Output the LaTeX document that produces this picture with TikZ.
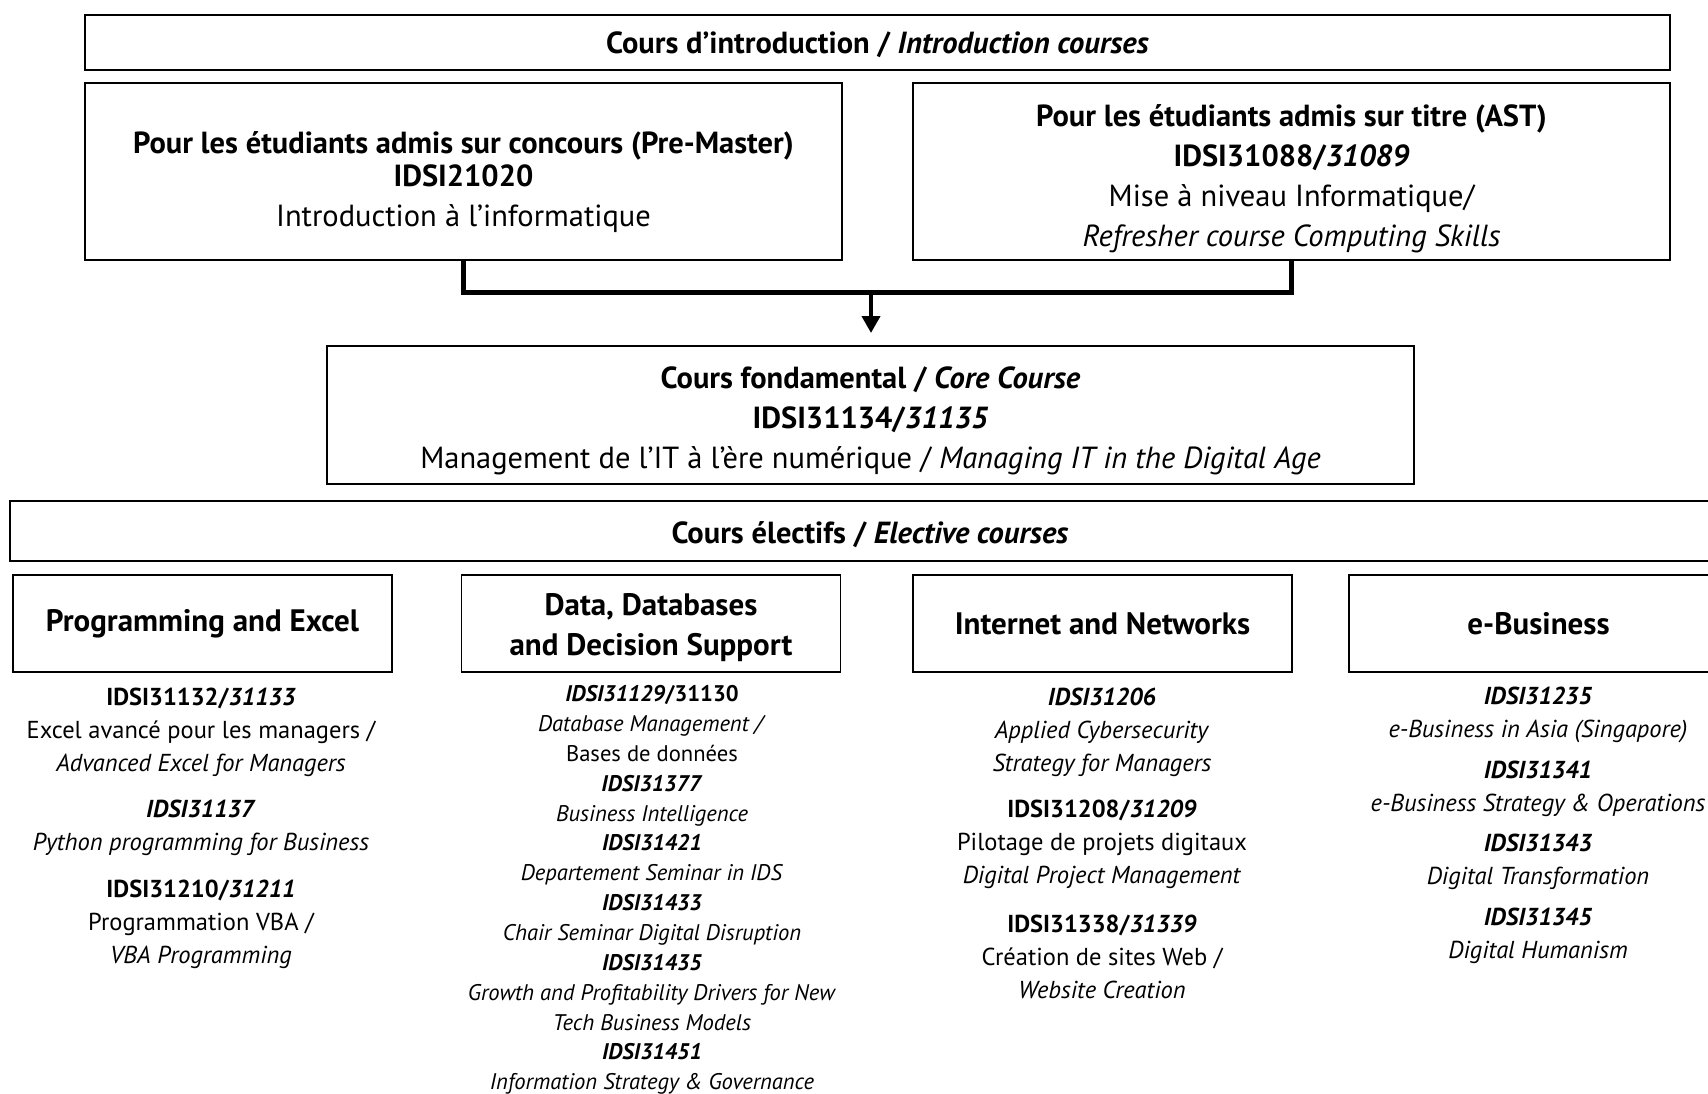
\documentclass[tikz,border=0pt]{standalone}
\usepackage{fontspec}
\setmainfont{PT Sans}
\usetikzlibrary{arrows.meta,positioning}

\begin{document}
\begin{tikzpicture}[x=1pt,y=-1pt]
	\tikzstyle{Box}		= [draw, line width=1.6pt, inner sep=0pt, align=center]
	\tikzstyle{Big}		= [align=center, inner sep=0pt, font=\fontsize{30.5}{40}\selectfont]
	\tikzstyle{Group}	= [Box, minimum width=379, minimum height=97, font=\bfseries\fontsize{31}{40}\selectfont]
	\tikzstyle{Course}	= [align=center, inner sep=0pt, font=\fontsize{24.5}{33}\selectfont]
	\tikzstyle{Small}	= [align=center, inner sep=0pt, font=\fontsize{22.6}{29.85}\selectfont]
	\tikzstyle{Link}	= [line width=5pt]

	\useasboundingbox (0,0) rectangle (1708,1093);

	% introduction courses
	\node (introBox) at (877.5,42.5) [Box, minimum width=1585, minimum height=55] {};
	\node (intro) at (877.5,45) [Big] {\textbf{Cours d’introduction / \textit{Introduction courses}}};
	\node (preBox) at (463.5,171.5) [Box, minimum width=757, minimum height=177] {};
	\node (pre) at (463.5,182) [Big] {\textbf{Pour les étudiants admis sur concours (Pre-Master)}\\[-7pt] \textbf{IDSI21020}\\ Introduction à l’informatique};
	\node (astBox) at (1291.5,171.5) [Box, minimum width=757, minimum height=177] {};
	\node (ast) at (1291.5,179) [Big] {\textbf{Pour les étudiants admis sur titre (AST)}\\ \textbf{IDSI31088/\textit{31089}}\\ Mise à niveau Informatique/\\ \textit{Refresher course Computing Skills}};

	\coordinate (join) at (871,292.5);
	\coordinate (tip) at (871,333);
	\draw [Link] (preBox.south) |- (join);
	\draw [Link] (astBox.south) |- (join);
	\draw [-{Triangle[length=17pt,width=18pt]}, line width=4pt] (join) -- (tip);

	% core course
	\node (coreBox) at (870.5,415) [Box, minimum width=1087, minimum height=138] {};
	\node (core) at (870.5,420.5) [Big] {\textbf{Cours fondamental / \textit{Core Course}}\\ \textbf{IDSI31134/\textit{31135}}\\ Management de l’IT à l’ère numérique / \textit{Managing IT in the Digital Age}};

	% elective courses
	\node (elecBox) at (870,531) [Box, minimum width=1720, minimum height=60] {};
	\node (elec) at (870,535) [Big] {\textbf{Cours électifs / \textit{Elective courses}}};

	\node (prog) at (202.5,623.5) [Group] {Programming and Excel};
	\node (dataBox) at (651,623.5) [Group] {};
	\node (data) at (651,628) [Group, draw=none] {Data, Databases\\ and Decision Support};
	\node (inet) at (1102.5,623.5) [Group] {Internet and Networks};
	\node (ebiz) at (1538.5,623.5) [Group] {e-Business};

	% programming and excel
	\node (p1) at (201,732) [Course] {\textbf{IDSI31132/\textit{31133}}\\ Excel avancé pour les managers /\\ \textit{Advanced Excel for Managers}};
	\node (p2) at (201,828) [Course] {\textbf{\textit{IDSI31137}}\\ \textit{Python programming for Business}};
	\node (p3) at (201,924.5) [Course] {\textbf{IDSI31210/\textit{31211}}\\ Programmation VBA /\\ \textit{VBA Programming}};

	% data, databases
	\node (d1) at (652,890) [Small] {\textbf{\textit{IDSI31129}/31130}\\ \textit{Database Management /}\\ Bases de données\\
		\textbf{\textit{IDSI31377}}\\ \textit{Business Intelligence}\\
		\textbf{\textit{IDSI31421}}\\ \textit{Departement Seminar in IDS}\\
		\textbf{\textit{IDSI31433}}\\ \textit{Chair Seminar Digital Disruption}\\
		\textbf{\textit{IDSI31435}}\\ \textit{Growth and Profitability Drivers for New}\\ \textit{Tech Business Models}\\
		\textbf{\textit{IDSI31451}}\\ \textit{Information Strategy \& Governance}};

	% internet and networks
	\node (i1) at (1102,732) [Course] {\textbf{\textit{IDSI31206}}\\ \textit{Applied Cybersecurity}\\ \textit{Strategy for Managers}};
	\node (i2) at (1102,844) [Course] {\textbf{IDSI31208/\textit{31209}}\\ Pilotage de projets digitaux\\ \textit{Digital Project Management}};
	\node (i3) at (1102,956.5) [Course] {\textbf{IDSI31338/\textit{31339}}\\ Création de sites Web /\\ \textit{Website Creation}};

	% e-business
	\node (e1) at (1538,715) [Course] {\textbf{\textit{IDSI31235}}\\ \textit{e-Business in Asia (Singapore)}};
	\node (e2) at (1538,788.5) [Course] {\textbf{\textit{IDSI31341}}\\ \textit{e-Business Strategy \& Operations}};
	\node (e3) at (1538,862) [Course] {\textbf{\textit{IDSI31343}}\\ \textit{Digital Transformation}};
	\node (e4) at (1538,936) [Course] {\textbf{\textit{IDSI31345}}\\ \textit{Digital Humanism}};
\end{tikzpicture}
\end{document}
